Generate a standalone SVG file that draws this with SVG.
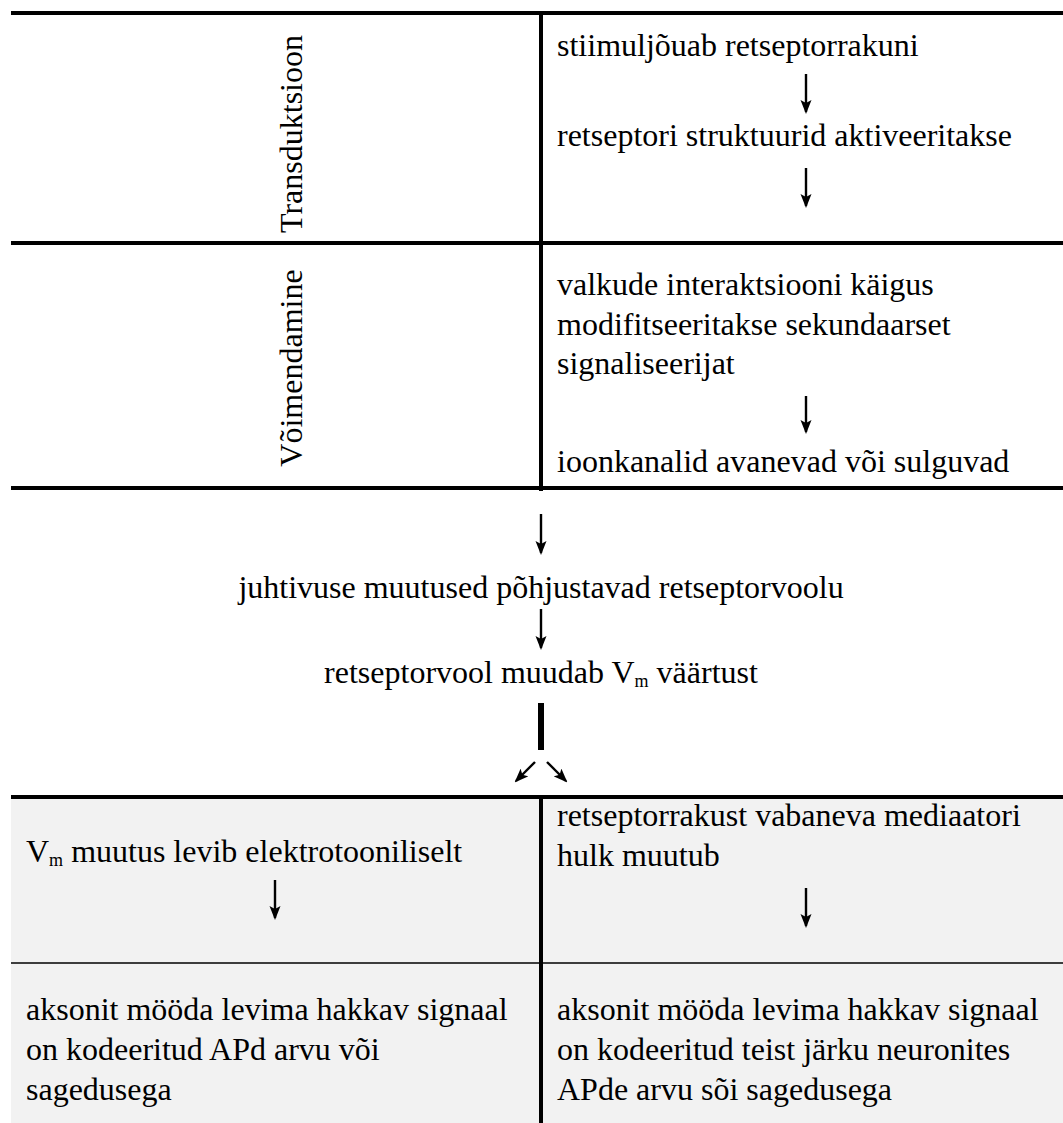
<svg xmlns="http://www.w3.org/2000/svg" width="1063" height="1123" viewBox="0 0 1063 1123">
<style>
.t{font-family:"Liberation Serif","Times New Roman",serif;font-size:32px;fill:#000}
.c{text-anchor:middle}
.sub{font-size:18px}
.rule{stroke:#000;stroke-width:4;fill:none}
.thin{stroke:#000;stroke-width:1.5;fill:none}
.arr{stroke:#000;stroke-width:2.4;fill:none;marker-end:url(#ah)}
</style>
<defs>
<marker id="ah" markerUnits="userSpaceOnUse" markerWidth="14" markerHeight="12" refX="12" refY="6" orient="auto">
<path d="M0,0.5 L14,6 L0,11.5 L3,6 Z" fill="#000"/>
</marker>
</defs>
<rect x="11" y="797" width="1052" height="326" fill="#f2f2f2"/>
<g id="rules">
<line class="rule" x1="11" y1="13" x2="1063" y2="13"/>
<line class="rule" x1="11" y1="243" x2="1063" y2="243"/>
<line class="rule" x1="11" y1="488" x2="1063" y2="488"/>
<line class="rule" x1="541" y1="13" x2="541" y2="491"/>
<line class="rule" x1="11" y1="797" x2="1063" y2="797"/>
<line class="thin" x1="11" y1="963" x2="1063" y2="963"/>
<line class="rule" x1="541" y1="797" x2="541" y2="1123"/>
</g>
<g id="transduktsioon"><text class="t c" transform="translate(302,134) rotate(-90)">Transduktsioon</text></g>
<g id="voimendamine"><text class="t c" transform="translate(302,368) rotate(-90)">Võimendamine</text></g>
<g id="n1"><text class="t" x="557" y="56">stiimuljõuab retseptorrakuni</text></g>
<g id="n2"><text class="t" x="557" y="146">retseptori struktuurid aktiveeritakse</text></g>
<g id="n3"><text class="t" x="557" y="295">valkude interaktsiooni käigus</text><text class="t" x="557" y="335">modifitseeritakse sekundaarset</text><text class="t" x="557" y="374">signaliseerijat</text></g>
<g id="n4"><text class="t" x="557" y="472">ioonkanalid avanevad või sulguvad</text></g>
<g id="n5"><text class="t c" x="541" y="598">juhtivuse muutused põhjustavad retseptorvoolu</text></g>
<g id="n6"><text class="t c" x="541" y="683">retseptorvool muudab V<tspan class="sub" dy="4">m</tspan><tspan dy="-4"> väärtust</tspan></text></g>
<g id="n7"><text class="t" x="26" y="862">V<tspan class="sub" dy="4">m</tspan><tspan dy="-4"> muutus levib elektrotooniliselt</tspan></text></g>
<g id="n8"><text class="t" x="557" y="826">retseptorrakust vabaneva mediaatori</text><text class="t" x="557" y="866">hulk muutub</text></g>
<g id="n9"><text class="t" x="26" y="1020">aksonit mööda levima hakkav signaal</text><text class="t" x="26" y="1060">on kodeeritud APd arvu või</text><text class="t" x="26" y="1100">sagedusega</text></g>
<g id="n10"><text class="t" x="557" y="1020">aksonit mööda levima hakkav signaal</text><text class="t" x="557" y="1060">on kodeeritud teist järku neuronites</text><text class="t" x="557" y="1100">APde arvu sõi sagedusega</text></g>
<g id="connectors">
<line class="arr" x1="806" y1="74" x2="806" y2="112"/>
<line class="arr" x1="806" y1="168" x2="806" y2="206"/>
<line class="arr" x1="806" y1="396" x2="806" y2="432"/>
<line class="arr" x1="541" y1="514" x2="541" y2="553"/>
<line class="arr" x1="541" y1="609" x2="541" y2="648"/>
<rect x="538" y="703" width="6" height="47" fill="#000"/>
<line class="arr" x1="535" y1="762" x2="516" y2="781"/>
<line class="arr" x1="547" y1="762" x2="566" y2="781"/>
<line class="arr" x1="275" y1="880" x2="275" y2="918"/>
<line class="arr" x1="806" y1="888" x2="806" y2="926"/>
</g>
</svg>
